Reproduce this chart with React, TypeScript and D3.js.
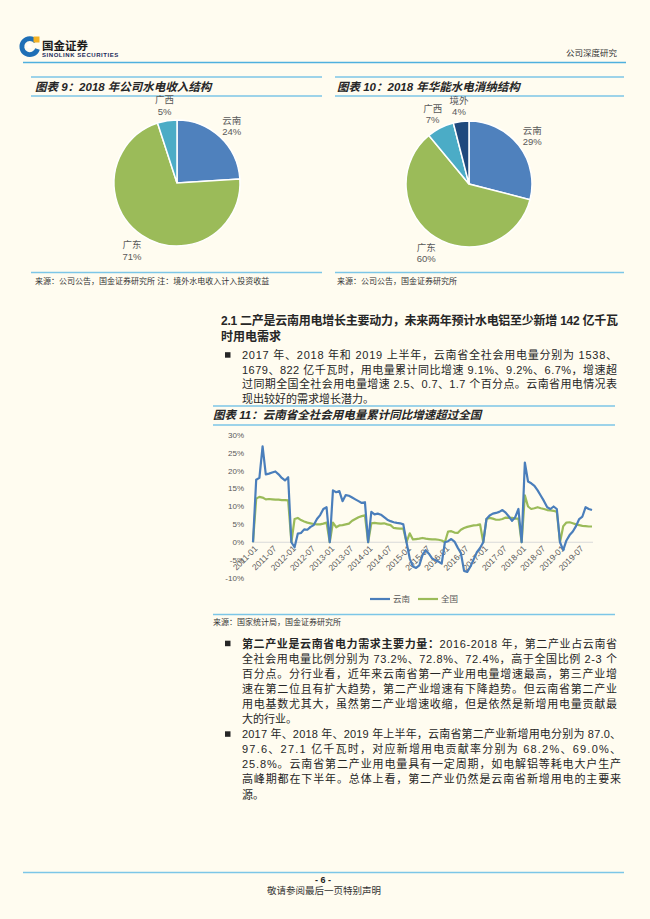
import * as d3 from 'd3';

const W = 650;
const H = 919;
const BG = '#fffcf0';
const RULE = '#7cc6e7';
const FONT = '"Liberation Sans", "Noto Sans CJK SC", sans-serif';
const INK = '#262626';
const GREY = '#595959';

// 图表 9：2018 年公司水电收入结构
const pie9Names = ['云南', '广东', '广西'];
const pie9Values = [24, 71, 5];
// 图表 10：2018 年华能水电消纳结构
const pie10Names = ['云南', '广东', '广西', '境外'];
const pie10Values = [29, 60, 7, 4];
const sliceColors = ['#4f81bd', '#9bbb59', '#4bacc6', '#1f497d'];

// 图表 11：全社会用电量累计同比 (%)，2011-01 ~ 2019-11，1 月无数据记为 0
const yunnan = [
  0, 17.5, 18.0, 26.8, 19.0, 19.2, 19.5, 19.8, 19.0, 18.0, 17.3, 18.2, // 2011
  0, -1.4, 2.4, 2.6, 3.6, 3.5, 4.3, 4.8, 6.5, 7.6, 9.3, 9.8, // 2012
  0, 14.5, 14.0, 14.3, 11.5, 13.2, 13.0, 12.5, 12.0, 11.5, 11.0, 11.2, // 2013
  0, 8.5, 7.8, 8.0, 7.7, 7.0, 6.3, 5.9, 5.6, 5.4, 5.3, 5.0, // 2014
  0, -4.5, -6.8, -7.2, -6.5, -3.6, -2.2, -3.2, -4.5, -5.0, -5.4, -6.0, // 2015
  0, 0.3, 0.9, 0.2, -1.5, -3.0, -8.0, -8.3, -6.8, -4.8, -2.8, -1.6, // 2016
  0, 6.5, 7.5, 8.0, 8.2, 8.5, 9.0, 8.3, 7.2, 6.0, 7.0, 9.3, // 2017
  0, 22.3, 17.0, 16.5, 15.8, 14.5, 13.0, 11.5, 9.8, 9.3, 10.0, 9.3, // 2018
  0, -2.2, 0.5, 2.0, 3.0, 4.5, 6.5, 7.2, 9.8, 9.3, 9.0, // 2019
];
const national = [
  0, 12.2, 12.7, 12.5, 12.0, 12.1, 12.0, 11.9, 11.9, 11.8, 11.8, 11.7, // 2011
  0, 6.5, 6.8, 6.2, 5.8, 5.5, 5.3, 5.1, 5.0, 5.0, 5.2, 5.5, // 2012
  0, 5.5, 4.2, 4.7, 4.8, 5.0, 5.2, 6.0, 6.5, 7.0, 7.3, 7.5, // 2013
  0, 5.3, 5.4, 5.3, 5.2, 5.3, 5.0, 4.8, 4.0, 3.9, 3.8, 3.8, // 2014
  0, 2.5, 0.8, 0.9, 1.0, 1.2, 1.0, 0.9, 0.8, 0.8, 0.7, 0.5, // 2015
  0, 3.0, 3.1, 2.7, 2.6, 3.5, 4.0, 4.3, 4.5, 4.7, 4.8, 5.0, // 2016
  0, 6.5, 6.8, 6.6, 6.3, 6.3, 6.5, 6.9, 6.8, 6.8, 6.6, 6.6, // 2017
  0, 13.1, 10.0, 9.3, 9.5, 9.8, 9.5, 9.3, 9.0, 8.9, 8.8, 8.5, // 2018
  0, 4.5, 5.5, 5.6, 5.3, 5.0, 4.8, 4.6, 4.5, 4.4, 4.4, // 2019
];
const months = yunnan.map(
  (_, i) => `${2011 + Math.floor(i / 12)}-${String((i % 12) + 1).padStart(2, '0')}`
);
const xTickLabels = [
  '2011-01', '2011-07', '2012-01', '2012-07', '2013-01', '2013-07',
  '2014-01', '2014-07', '2015-01', '2015-07', '2016-01', '2016-07',
  '2017-01', '2017-07', '2018-01', '2018-07', '2019-01', '2019-07',
];
const yTicks = [-10, -5, 0, 5, 10, 15, 20, 25, 30];
const seriesNames = ['云南', '全国'];

// 正文
const heading = [
  '2.1 二产是云南用电增长主要动力，未来两年预计水电铝至少新增 142 亿千瓦',
  '时用电需求',
];
const para1 = [
  '2017 年、2018 年和 2019 上半年，云南省全社会用电量分别为 1538、',
  '1679、822 亿千瓦时，用电量累计同比增速 9.1%、9.2%、6.7%，增速超',
  '过同期全国全社会用电量增速 2.5、0.7、1.7 个百分点。云南省用电情况表',
  '现出较好的需求增长潜力。',
];
const para2Lead = '第二产业是云南省电力需求主要力量：';
const para2 = [
  '2016-2018 年，第二产业占云南省',
  '全社会用电量比例分别为 73.2%、72.8%、72.4%，高于全国比例 2-3 个',
  '百分点。分行业看，近年来云南省第一产业用电量增速最高，第三产业增',
  '速在第二位且有扩大趋势，第二产业增速有下降趋势。但云南省第二产业',
  '用电基数尤其大，虽然第二产业增速收缩，但是依然是新增用电量贡献最',
  '大的行业。',
];
const para3 = [
  '2017 年、2018 年、2019 年上半年，云南省第二产业新增用电分别为 87.0、',
  '97.6、27.1 亿千瓦时，对应新增用电贡献率分别为 68.2%、69.0%、',
  '25.8%。云南省第二产业用电量具有一定周期，如电解铝等耗电大户生产',
  '高峰期都在下半年。总体上看，第二产业仍然是云南省新增用电的主要来',
  '源。',
];

const LEAD = 14.6; // 正文行距
const LEAD2 = 15.1;

function Pie({ cx, cy, r, names, values }: { cx: number; cy: number; r: number; names: string[]; values: number[] }) {
  const arcs = d3.pie<number>().sort(null)(values);
  const arc = d3.arc<d3.PieArcDatum<number>>().innerRadius(0).outerRadius(r);
  const labelArc = d3.arc<d3.PieArcDatum<number>>().innerRadius(r + 17).outerRadius(r + 17);
  return (
    <g transform={`translate(${cx},${cy})`}>
      {arcs.map((a, i) => (
        <path key={i} d={arc(a) || ''} fill={sliceColors[i]} stroke="#ffffff" strokeWidth={1.5} />
      ))}
      {arcs.map((a, i) => {
        const [lx, ly] = labelArc.centroid(a);
        return (
          <text key={'l' + i} x={lx} y={ly} textAnchor="middle" fontSize={9.5} fill={GREY}>
            <tspan x={lx} dy={-1}>{names[i]}</tspan>
            <tspan x={lx} dy={11.5}>{values[i]}%</tspan>
          </text>
        );
      })}
    </g>
  );
}

function LineChart() {
  const x = d3.scalePoint<string>().domain(months).range([253, 592]);
  const y = d3.scaleLinear().domain([-10, 30]).range([578, 435]);
  const line = d3
    .line<number>()
    .x((_, i) => x(months[i]) as number)
    .y((d) => y(d));
  const colors = ['#4a7ebb', '#9bbb59'];
  return (
    <g fontFamily={FONT}>
      <line x1={253} x2={593} y1={y(0)} y2={y(0)} stroke="#d9d9d9" strokeWidth={1} />
      {yTicks.map((t) => (
        <text key={t} x={244} y={y(t)} dy="0.35em" textAnchor="end" fontSize={8} fill={GREY}>
          {t}%
        </text>
      ))}
      {xTickLabels.map((m) => {
        const px = (x(m) as number) + 5;
        const py = y(0) + 7;
        return (
          <text key={m} transform={`translate(${px},${py}) rotate(-45)`} textAnchor="end" fontSize={8.5} fill={GREY}>
            {m}
          </text>
        );
      })}
      <path d={line(national) || ''} fill="none" stroke={colors[1]} strokeWidth={2.2} strokeLinejoin="round" />
      <path d={line(yunnan) || ''} fill="none" stroke={colors[0]} strokeWidth={2.2} strokeLinejoin="round" />
      {seriesNames.map((n, i) => (
        <g key={n} transform={`translate(${370 + i * 48},599)`}>
          <line x1={0} x2={20} y1={0} y2={0} stroke={colors[i]} strokeWidth={2.2} />
          <text x={23} y={0} dy="0.35em" fontSize={8.5} fill={GREY}>
            {n}
          </text>
        </g>
      ))}
    </g>
  );
}

function Lines({ x, y0, step, width, lines, size = 11 }: { x: number; y0: number; step: number; width: number; lines: string[]; size?: number }) {
  return (
    <>
      {lines.map((l, i) => {
        const justify = i < lines.length - 1;
        return (
          <text key={i} x={x} y={y0 + i * step} fontSize={size} fill={INK} {...(justify ? { textLength: width, lengthAdjust: 'spacing' } : {})}>
            {l}
          </text>
        );
      })}
    </>
  );
}

function Bullet({ y }: { y: number }) {
  return <rect x={225} y={y - 6.8} width={5.5} height={5.5} fill={INK} />;
}

export default function App() {
  const titleStyle = { fontWeight: 700, fontStyle: 'italic' as const };
  const p1 = 359;
  const p2 = 647.5;
  const p3 = p2 + LEAD2 * para2.length;
  return (
    <svg width={W} height={H} style={{ position: 'absolute', left: 0, top: 0, display: 'block' }} fontFamily={FONT}>
      <rect width={W} height={H} fill={BG} />

      {/* 页眉 */}
      <g>
        <path d="M36,41.5 A8,8 0 1 0 37.5,49" fill="none" stroke="#1f6fb6" strokeWidth={4.8} />
        <rect x={33.5} y={36.5} width={6} height={6} fill="#f4b223" />
        <rect x={27.5} y={44} width={4} height={4} fill="#ffffff" />
        <text x={42} y={49.5} fontSize={11.5} fontWeight={700} fill="#1a1a1a">国金证券</text>
        <text x={42} y={57} fontSize={6} fontWeight={700} fill="#1a2a5a" letterSpacing={0.55}>SINOLINK SECURITIES</text>
        <text x={617} y={56} fontSize={8.5} textAnchor="end" fill="#333">公司深度研究</text>
        <line x1={23} x2={626} y1={62.5} y2={62.5} stroke="#4fb0de" strokeWidth={1.5} />
      </g>

      {/* 图表 9 */}
      <line x1={31} x2={322} y1={77} y2={77} stroke={RULE} strokeWidth={1.3} />
      <text x={35} y={91} fontSize={11.5} fill={INK} {...titleStyle}>图表 9：2018 年公司水电收入结构</text>
      <line x1={31} x2={322} y1={96} y2={96} stroke={RULE} strokeWidth={1.3} />
      <Pie cx={177} cy={183} r={63} names={pie9Names} values={pie9Values} />
      <line x1={31} x2={322} y1={272.5} y2={272.5} stroke={RULE} strokeWidth={1.3} />
      <text x={35} y={284} fontSize={8} fill="#333">来源：公司公告，国金证券研究所 注：境外水电收入计入投资收益</text>

      {/* 图表 10 */}
      <line x1={335} x2={624} y1={77} y2={77} stroke={RULE} strokeWidth={1.3} />
      <text x={337} y={91} fontSize={11.5} fill={INK} {...titleStyle}>图表 10：2018 年华能水电消纳结构</text>
      <line x1={335} x2={624} y1={96} y2={96} stroke={RULE} strokeWidth={1.3} />
      <Pie cx={469} cy={184} r={63} names={pie10Names} values={pie10Values} />
      <line x1={335} x2={624} y1={272.5} y2={272.5} stroke={RULE} strokeWidth={1.3} />
      <text x={337} y={284} fontSize={8} fill="#333">来源：公司公告，国金证券研究所</text>

      {/* 2.1 */}
      <g fontWeight={700}>
        <Lines x={221} y0={324.5} step={16} width={397} lines={heading} size={12} />
      </g>
      <Bullet y={p1} />
      <Lines x={242} y0={p1} step={LEAD} width={375} lines={para1} />

      {/* 图表 11 */}
      <line x1={213} x2={615} y1={406} y2={406} stroke={RULE} strokeWidth={1.3} />
      <text x={213} y={419} fontSize={11.5} fill={INK} {...titleStyle}>图表 11：云南省全社会用电量累计同比增速超过全国</text>
      <line x1={213} x2={615} y1={425} y2={425} stroke={RULE} strokeWidth={1.3} />
      <LineChart />
      <line x1={213} x2={615} y1={614.5} y2={614.5} stroke={RULE} strokeWidth={1.3} />
      <text x={213} y={625} fontSize={8} fill="#333">来源：国家统计局，国金证券研究所</text>

      {/* 正文 */}
      <Bullet y={p2} />
      <text x={242} y={p2} fontSize={11} fill={INK} textLength={375} lengthAdjust="spacing">
        <tspan fontWeight={700}>{para2Lead}</tspan>
        <tspan>{para2[0]}</tspan>
      </text>
      <Lines x={242} y0={p2 + LEAD2} step={LEAD2} width={375} lines={para2.slice(1)} />

      <Bullet y={p3} />
      <Lines x={242} y0={p3} step={LEAD2} width={379} lines={para3} />

      {/* 页脚 */}
      <line x1={23} x2={624} y1={872.5} y2={872.5} stroke={RULE} strokeWidth={1.5} />
      <text x={323} y={882.5} fontSize={9} fontWeight={700} textAnchor="middle" fill="#222">- 6 -</text>
      <text x={267} y={893.5} fontSize={9.5} fill="#333">敬请参阅最后一页特别声明</text>
    </svg>
  );
}
